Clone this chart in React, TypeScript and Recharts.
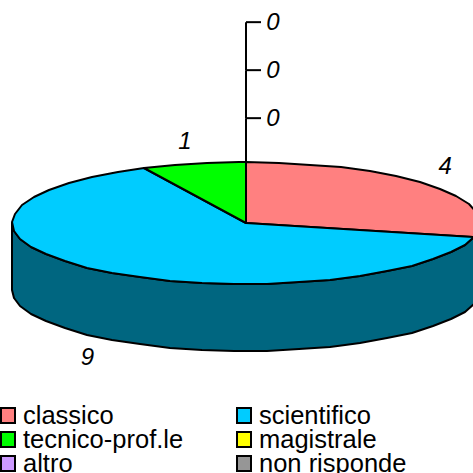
import { PieChart, Pie, Cell, Legend } from 'recharts';

const CATEGORIES = ['classico', 'scientifico', 'tecnico-prof.le', 'magistrale', 'altro', 'non risponde'];
const VALUES = [4, 9, 1, 0, 0, 0];
const COLORS = ['#ff8080', '#00ccff', '#00ff00', '#ffff00', '#cc99ff', '#969696'];
const WALL_COLORS = ['#804040', '#006680', '#008000', '#808000', '#664c80', '#4b4b4b'];

const rows = CATEGORIES.map((name, i) => ({ name, value: VALUES[i], wall: WALL_COLORS[i] }));

const CX = 246;
const CY = 223;
const RADIUS = 234;
const SQUASH = 0.26; // how flat the disc is
const DEPTH = 67;
const STEP = 8;
// small hand tweaks for the value labels, by slice
const LABEL_NUDGE = [[-1, -3], [1, -2], [-4, 3]];

const rad = (a: number) => (a * Math.PI) / 180;
// rounded on purpose, the original outline is a bit jagged
const px = (cx: number, r: number, a: number) => Math.round(cx + r * Math.cos(rad(a)));
const py = (cy: number, r: number, a: number) => Math.round(cy - r * SQUASH * Math.sin(rad(a)));

// angles run clockwise, so from start down to end
function arcAngles(start: number, end: number) {
  const out: number[] = [];
  for (let a = start; a > end; a -= STEP) out.push(a);
  out.push(end);
  return out;
}

function DiscSlice(props: any) {
  const { cx, cy, outerRadius, startAngle, endAngle, fill, wall } = props;
  if (startAngle === endAngle) return null;
  const top = arcAngles(startAngle, endAngle)
    .map((a) => `${px(cx, outerRadius, a)},${py(cy, outerRadius, a)}`)
    .join(' ');

  // the wall only shows on the front half of the disc
  const wallStart = Math.min(startAngle, 0);
  const wallEnd = Math.max(endAngle, -180);
  let wallPoints = '';
  if (wallStart > wallEnd) {
    const front = arcAngles(wallStart, wallEnd);
    const upper = front.map((a) => `${px(cx, outerRadius, a)},${py(cy, outerRadius, a)}`);
    const lower = [...front].reverse().map((a) => `${px(cx, outerRadius, a)},${py(cy, outerRadius, a) + DEPTH}`);
    wallPoints = [...upper, ...lower].join(' ');
  }

  return (
    <g>
      {wallPoints && <polygon points={wallPoints} fill={wall} stroke="#000" strokeWidth={2} strokeLinejoin="round" />}
      <polygon points={`${cx},${cy} ${top}`} fill={fill} stroke="#000" strokeWidth={2} strokeLinejoin="round" />
    </g>
  );
}

function SliceLabel(props: any) {
  const { cx, cy, midAngle, index, value } = props;
  const textStyle = { fontFamily: '"Liberation Sans", Arial, sans-serif', fontSize: 24, fontStyle: 'italic' };

  // empty slices get stacked on a stem above the disc
  if (value === 0) {
    const level = index - VALUES.findIndex((v) => v === 0);
    const rim = cy - RADIUS * SQUASH;
    const tickY = rim - 44 - level * 48;
    const stemBottom = level === 0 ? rim : tickY + 48;
    return (
      <g>
        <line x1={cx} y1={stemBottom} x2={cx} y2={tickY} stroke="#000" strokeWidth={2} />
        <line x1={cx} y1={tickY} x2={cx + 15} y2={tickY} stroke="#000" strokeWidth={2} />
        <text x={cx + 27} y={tickY - 1} textAnchor="middle" dominantBaseline="central" fill="#000" style={textStyle}>
          {value}
        </text>
      </g>
    );
  }

  const sin = Math.sin(rad(midAngle));
  const x = cx + 256 * Math.cos(rad(midAngle)) + LABEL_NUDGE[index][0];
  const y = cy - 88 * sin + (sin < 0 ? DEPTH : 0) + LABEL_NUDGE[index][1];
  return (
    <text x={x} y={y} textAnchor="middle" dominantBaseline="central" fill="#000" style={textStyle}>
      {value}
    </text>
  );
}

function LegendBox() {
  return (
    <div
      style={{
        display: 'grid',
        gridTemplateColumns: '236px 237px',
        gridAutoRows: '24px',
        fontFamily: '"Liberation Sans", Arial, sans-serif',
        fontSize: 25.5,
        color: '#000',
      }}
    >
      {CATEGORIES.map((name, i) => (
        <div key={name} style={{ display: 'flex', alignItems: 'center', height: 24, whiteSpace: 'nowrap' }}>
          <span
            style={{
              width: 12,
              height: 13,
              background: COLORS[i],
              border: '2px solid #000',
              marginRight: 7,
              flex: 'none',
            }}
          />
          {name}
        </div>
      ))}
    </div>
  );
}

export default function App() {
  return (
    <div style={{ position: 'absolute', left: 0, top: 0, width: 473, height: 473, overflow: 'hidden', background: '#fff' }}>
      <PieChart width={473} height={473} margin={{ top: 0, right: 0, bottom: 0, left: 0 }}>
        <Pie
          data={rows}
          dataKey="value"
          nameKey="name"
          cx={CX}
          cy={CY}
          innerRadius={0}
          outerRadius={RADIUS}
          startAngle={90}
          endAngle={-270}
          isAnimationActive={false}
          shape={DiscSlice}
          label={SliceLabel}
          labelLine={false}
        >
          {rows.map((row, i) => (
            <Cell key={row.name} fill={COLORS[i]} />
          ))}
        </Pie>
        <Legend
          content={LegendBox}
          wrapperStyle={{ position: 'absolute', left: 0, top: 403, width: 473, height: 72 }}
        />
      </PieChart>
    </div>
  );
}
